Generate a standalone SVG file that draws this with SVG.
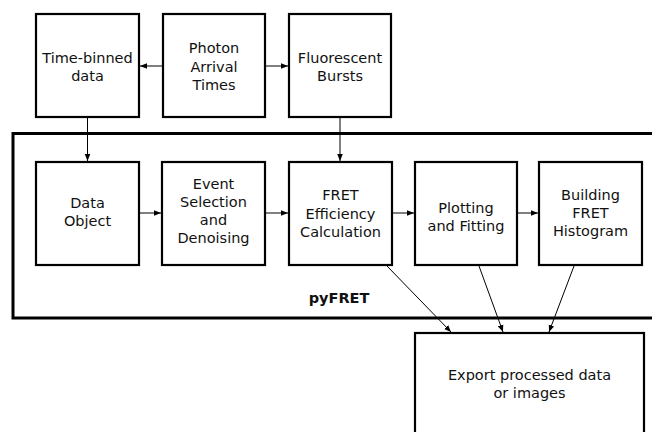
<svg xmlns="http://www.w3.org/2000/svg" width="652" height="432" viewBox="0 0 652 432">
<defs>
<marker id="arr" viewBox="0 0 10 10" refX="10" refY="5" markerWidth="7" markerHeight="7" markerUnits="userSpaceOnUse" orient="auto">
<path d="M0,1 L10,5 L0,9 z" fill="#000"/>
</marker>
</defs>
<style>
.box{fill:#fff;stroke:#000;stroke-width:2.2}
.frame{fill:#fff;stroke:#000;stroke-width:3}
.lbl{font-family:"DejaVu Sans",sans-serif;font-size:14.5px;fill:#111;text-anchor:middle}
.bold{font-weight:bold}
.conn{stroke:#000;stroke-width:1;fill:none;marker-end:url(#arr)}
</style>
<rect width="652" height="432" fill="#fff"/>
<g id="pyFRET">
<rect class="frame" x="13" y="133.5" width="645" height="184.5"/>
<text class="lbl bold" x="339" y="303">pyFRET</text>
</g>
<g id="time-binned">
<rect class="box" x="36" y="14" width="103" height="103"/>
<text class="lbl" x="87.5" y="63">Time-binned</text>
<text class="lbl" x="87.5" y="81">data</text>
</g>
<g id="photon">
<rect class="box" x="163" y="14" width="102" height="103"/>
<text class="lbl" x="214" y="53">Photon</text>
<text class="lbl" x="214" y="71.5">Arrival</text>
<text class="lbl" x="214" y="90">Times</text>
</g>
<g id="fluorescent">
<rect class="box" x="289" y="14" width="102" height="103"/>
<text class="lbl" x="340" y="63">Fluorescent</text>
<text class="lbl" x="340" y="81">Bursts</text>
</g>
<g id="data-object">
<rect class="box" x="36" y="162" width="103" height="103"/>
<text class="lbl" x="87.5" y="208">Data</text>
<text class="lbl" x="87.5" y="226">Object</text>
</g>
<g id="event">
<rect class="box" x="162" y="162" width="103" height="103"/>
<text class="lbl" x="213.5" y="189">Event</text>
<text class="lbl" x="213.5" y="207">Selection</text>
<text class="lbl" x="213.5" y="225">and</text>
<text class="lbl" x="213.5" y="243">Denoising</text>
</g>
<g id="fret">
<rect class="box" x="289" y="162" width="103" height="103"/>
<text class="lbl" x="340.5" y="200">FRET</text>
<text class="lbl" x="340.5" y="218.5">Efficiency</text>
<text class="lbl" x="340.5" y="237">Calculation</text>
</g>
<g id="plotting">
<rect class="box" x="415" y="162" width="102" height="103"/>
<text class="lbl" x="466" y="213">Plotting</text>
<text class="lbl" x="466" y="231">and Fitting</text>
</g>
<g id="building">
<rect class="box" x="539" y="162" width="103" height="103"/>
<text class="lbl" x="590.5" y="200">Building</text>
<text class="lbl" x="590.5" y="218">FRET</text>
<text class="lbl" x="590.5" y="236">Histogram</text>
</g>
<g id="export">
<rect class="box" x="415" y="333" width="229" height="110"/>
<text class="lbl" x="529.5" y="380">Export processed data</text>
<text class="lbl" x="529.5" y="397.5">or images</text>
</g>
<g id="connectors">
<line class="conn" x1="163" y1="66" x2="140" y2="66"/>
<line class="conn" x1="265" y1="66" x2="288" y2="66"/>
<line class="conn" x1="87.5" y1="118" x2="87.5" y2="161"/>
<line class="conn" x1="340" y1="118" x2="340" y2="161"/>
<line class="conn" x1="139" y1="213" x2="161" y2="213"/>
<line class="conn" x1="265" y1="213" x2="288" y2="213"/>
<line class="conn" x1="392" y1="213" x2="414" y2="213"/>
<line class="conn" x1="517" y1="213" x2="538" y2="213"/>
<line class="conn" x1="387" y1="266" x2="451" y2="332"/>
<line class="conn" x1="479" y1="266" x2="503" y2="332"/>
<line class="conn" x1="574" y1="266" x2="549" y2="332"/>
</g>
</svg>
